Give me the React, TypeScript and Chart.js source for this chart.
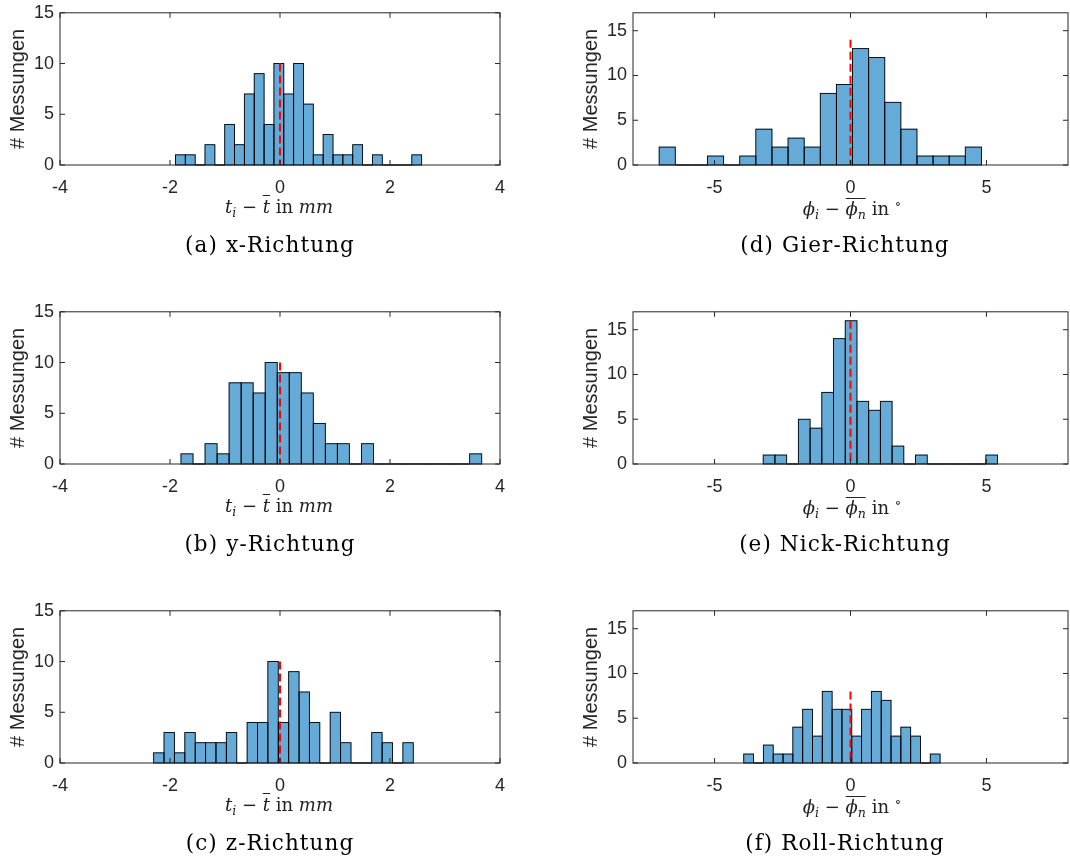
import React, { useEffect, useRef } from 'react';
import { Chart, registerables } from 'chart.js';

Chart.register(...registerables);

// (a) x-Richtung
const xBinCenters = [-1.811, -1.632, -1.453, -1.274, -1.095, -0.916, -0.737, -0.558, -0.379, -0.2, -0.021, 0.158, 0.337, 0.516, 0.695, 0.874, 1.053, 1.232, 1.412, 1.591, 1.77, 1.949, 2.128, 2.307, 2.486];
const xCounts = [1, 1, 0, 2, 0, 4, 2, 7, 9, 4, 10, 7, 10, 6, 1, 3, 1, 1, 2, 0, 1, 0, 0, 0, 1];
const xMeanTop = 10;

// (b) y-Richtung
const yBinCenters = [-1.691, -1.472, -1.253, -1.035, -0.816, -0.597, -0.379, -0.16, 0.059, 0.278, 0.496, 0.715, 0.934, 1.152, 1.371, 1.59, 1.809, 2.027, 2.246, 2.465, 2.683, 2.902, 3.121, 3.339, 3.558];
const yCounts = [1, 0, 2, 1, 8, 8, 7, 10, 9, 9, 7, 4, 2, 2, 0, 2, 0, 0, 0, 0, 0, 0, 0, 0, 1];
const yMeanTop = 10;

// (c) z-Richtung
const zBinCenters = [-2.203, -2.014, -1.825, -1.636, -1.447, -1.259, -1.07, -0.881, -0.692, -0.503, -0.315, -0.126, 0.063, 0.252, 0.441, 0.629, 0.818, 1.007, 1.196, 1.385, 1.573, 1.762, 1.951, 2.14, 2.329];
const zCounts = [1, 3, 1, 3, 2, 2, 2, 3, 0, 4, 4, 10, 4, 9, 7, 4, 0, 5, 2, 0, 0, 3, 2, 0, 2];
const zMeanTop = 10;

// (d) Gier-Richtung
const gierBinCenters = [-6.741, -6.148, -5.556, -4.963, -4.37, -3.778, -3.185, -2.593, -2.0, -1.407, -0.815, -0.222, 0.371, 0.963, 1.556, 2.148, 2.741, 3.334, 3.926, 4.519];
const gierCounts = [2, 0, 0, 1, 0, 1, 4, 2, 3, 2, 8, 9, 13, 12, 7, 4, 1, 1, 1, 2];
const gierMeanTop = 14;

// (e) Nick-Richtung
const nickBinCenters = [-2.995, -2.564, -2.133, -1.702, -1.271, -0.84, -0.409, 0.022, 0.453, 0.884, 1.314, 1.745, 2.176, 2.607, 3.038, 3.469, 3.9, 4.331, 4.762, 5.193];
const nickCounts = [1, 1, 0, 5, 4, 8, 14, 16, 7, 6, 7, 2, 0, 1, 0, 0, 0, 0, 0, 1];
const nickMeanTop = 16;

// (f) Roll-Richtung
const rollBinCenters = [-3.746, -3.384, -3.023, -2.662, -2.301, -1.94, -1.579, -1.218, -0.857, -0.496, -0.135, 0.227, 0.588, 0.949, 1.31, 1.671, 2.032, 2.393, 2.754, 3.115];
const rollCounts = [1, 0, 2, 1, 1, 4, 6, 3, 8, 6, 6, 3, 6, 8, 7, 3, 4, 3, 0, 1];
const rollMeanTop = 8;

const yAxisTitle = '# Messungen';
const translationRange = [-4, 4];
const translationStep = 2;
const rotationRange = [-8, 8];
const rotationStep = 5;
const translationYMax = 15;
const rotationYMax = 17;

const BAR_FILL = 'rgb(102,170,215)';
const AXIS_COLOR = '#262626';
const TICK_FONT = '"Liberation Sans", Arial, sans-serif';

const ROW_TOPS = [10, 309, 608];
const PLOT_H = 155;
const PAD_TOP = 14;
const X_AXIS_H = 40;

const framePlugin = {
  id: 'matlabFrame',
  afterDatasetDraw(chart: any, args: any) {
    if (args.index !== 0) return;
    const ctx = chart.ctx;
    const area = chart.chartArea;
    ctx.save();
    ctx.beginPath();
    ctx.rect(area.left, area.top - 1, area.right - area.left, area.bottom - area.top + 2);
    ctx.clip();
    ctx.strokeStyle = '#000';
    ctx.lineWidth = 0.9;
    args.meta.data.forEach((bar: any) => {
      const p = bar.getProps(['x', 'y', 'base', 'width'], true);
      ctx.strokeRect(p.x - p.width / 2, p.y, p.width, p.base - p.y);
    });
    ctx.restore();
  },
  afterDraw(chart: any) {
    const ctx = chart.ctx;
    const { left, right, top, bottom } = chart.chartArea;
    const xs = chart.scales.x;
    const ys = chart.scales.y;
    const tl = 5;
    ctx.save();
    ctx.strokeStyle = AXIS_COLOR;
    ctx.lineWidth = 1;
    ctx.strokeRect(left, top, right - left, bottom - top);
    ctx.beginPath();
    xs.ticks.forEach((t: any) => {
      const px = xs.getPixelForValue(t.value);
      ctx.moveTo(px, bottom);
      ctx.lineTo(px, bottom - tl);
      ctx.moveTo(px, top);
      ctx.lineTo(px, top + tl);
    });
    ys.ticks.forEach((t: any) => {
      const py = ys.getPixelForValue(t.value);
      ctx.moveTo(left, py);
      ctx.lineTo(left + tl, py);
      ctx.moveTo(right, py);
      ctx.lineTo(right - tl, py);
    });
    ctx.stroke();
    ctx.restore();
  },
};

type PanelProps = {
  centers: number[];
  counts: number[];
  meanTop: number;
  xRange: number[];
  xStep: number;
  yMax: number;
  left: number;
  width: number;
  padLeft: number;
  padRight: number;
  top: number;
};

function Panel(props: PanelProps) {
  const ref = useRef<HTMLCanvasElement | null>(null);
  const height = PAD_TOP + PLOT_H + X_AXIS_H;
  useEffect(() => {
    if (!ref.current) return;
    const chart = new Chart(ref.current, {
      type: 'bar',
      data: {
        datasets: [
          {
            type: 'bar',
            data: props.centers.map((c, i) => ({ x: c, y: props.counts[i] })),
            backgroundColor: BAR_FILL,
            borderWidth: 0,
            barThickness: 'flex',
            categoryPercentage: 1,
            barPercentage: 1,
            order: 1,
          } as any,
          {
            type: 'line',
            data: [
              { x: 0, y: props.meanTop },
              { x: 0, y: 0 },
            ],
            borderColor: 'rgb(255,0,0)',
            borderWidth: 2,
            borderDash: [8, 4],
            pointRadius: 0,
            fill: false,
            order: 0,
          } as any,
        ],
      },
      options: {
        animation: false,
        responsive: false,
        maintainAspectRatio: false,
        layout: { padding: { top: PAD_TOP, left: props.padLeft, right: props.padRight, bottom: 0 } },
        plugins: { legend: { display: false }, tooltip: { enabled: false } },
        scales: {
          x: {
            type: 'linear',
            min: props.xRange[0],
            max: props.xRange[1],
            offset: false,
            grid: { display: false, drawTicks: false },
            border: { display: false },
            ticks: {
              stepSize: props.xStep,
              includeBounds: false,
              padding: 12,
              color: AXIS_COLOR,
              font: { family: TICK_FONT, size: 18 },
              maxRotation: 0,
              autoSkip: false,
            },
            afterFit: (s: any) => {
              s.height = X_AXIS_H;
            },
          },
          y: {
            type: 'linear',
            min: 0,
            max: props.yMax,
            grid: { display: false, drawTicks: false },
            border: { display: false },
            ticks: {
              stepSize: 5,
              includeBounds: false,
              padding: 6,
              color: AXIS_COLOR,
              font: { family: TICK_FONT, size: 18 },
            },
            title: {
              display: true,
              text: yAxisTitle,
              color: AXIS_COLOR,
              font: { family: TICK_FONT, size: 20 },
              padding: { top: 6, bottom: 0 },
            },
            afterFit: (s: any) => {
              s.width = 60;
            },
          },
        },
      } as any,
      plugins: [framePlugin],
    });
    return () => chart.destroy();
  }, []);
  return (
    <canvas
      ref={ref}
      width={props.width}
      height={height}
      style={{ position: 'absolute', left: props.left, top: props.top - PAD_TOP, width: props.width, height }}
    />
  );
}

const serif = '"DejaVu Serif", "Liberation Serif", serif';
const MATH_FS = 18;

const subStyle: React.CSSProperties = { fontSize: '0.7em', position: 'relative', top: '0.3em' };

function mathBox(cx: number, baseline: number): React.CSSProperties {
  return {
    position: 'absolute',
    left: cx,
    top: baseline - MATH_FS * 0.846,
    transform: 'translateX(-50%)',
    fontFamily: serif,
    fontSize: MATH_FS,
    lineHeight: 1,
    whiteSpace: 'nowrap',
    color: '#222',
  };
}

function TransLabel({ cx, baseline }: { cx: number; baseline: number }) {
  return (
    <div style={mathBox(cx, baseline)}>
      <i>t</i>
      <span style={subStyle}>
        <i>i</i>
      </span>
      {' − '}
      <i style={{ textDecoration: 'overline' }}>t</i>
      {' in '}
      <i>mm</i>
    </div>
  );
}

function RotLabel({ cx, baseline }: { cx: number; baseline: number }) {
  return (
    <div style={mathBox(cx, baseline)}>
      <i>ϕ</i>
      <span style={subStyle}>
        <i>i</i>
      </span>
      {' − '}
      <span
        style={{
          display: 'inline-block',
          borderTop: '1px solid #222',
          paddingTop: 1,
          lineHeight: 1,
        }}
      >
        <i>ϕ</i>
        <span style={subStyle}>
          <i>n</i>
        </span>
      </span>
      {' in '}
      <span style={{ fontSize: '0.75em', position: 'relative', top: '-0.5em' }}>∘</span>
    </div>
  );
}

function Caption({ cx, baseline, text }: { cx: number; baseline: number; text: string }) {
  const fs = 21.5;
  return (
    <div
      style={{
        position: 'absolute',
        left: cx,
        top: baseline - fs * 0.846,
        transform: 'translateX(-50%)',
        fontFamily: serif,
        fontSize: fs,
        lineHeight: 1,
        letterSpacing: 1.1,
        whiteSpace: 'nowrap',
        color: '#000',
      }}
    >
      {text}
    </div>
  );
}

const leftPanels = [
  { centers: xBinCenters, counts: xCounts, meanTop: xMeanTop, caption: '(a) x-Richtung' },
  { centers: yBinCenters, counts: yCounts, meanTop: yMeanTop, caption: '(b) y-Richtung' },
  { centers: zBinCenters, counts: zCounts, meanTop: zMeanTop, caption: '(c) z-Richtung' },
];
const rightPanels = [
  { centers: gierBinCenters, counts: gierCounts, meanTop: gierMeanTop, caption: '(d) Gier-Richtung' },
  { centers: nickBinCenters, counts: nickCounts, meanTop: nickMeanTop, caption: '(e) Nick-Richtung' },
  { centers: rollBinCenters, counts: rollCounts, meanTop: rollMeanTop, caption: '(f) Roll-Richtung' },
];

export default function App() {
  return (
    <div
      style={{
        position: 'absolute',
        left: 0,
        top: 0,
        width: 1070,
        height: 861,
        overflow: 'hidden',
        background: '#fff',
      }}
    >
      {leftPanels.map((p, r) => (
        <React.Fragment key={'l' + r}>
          <Panel
            centers={p.centers}
            counts={p.counts}
            meanTop={p.meanTop}
            xRange={translationRange}
            xStep={translationStep}
            yMax={translationYMax}
            left={0}
            width={520}
            padLeft={0}
            padRight={20}
            top={ROW_TOPS[r]}
          />
          <TransLabel cx={279} baseline={ROW_TOPS[r] + PLOT_H + 48} />
          <Caption cx={270} baseline={ROW_TOPS[r] + PLOT_H + 87} text={p.caption} />
        </React.Fragment>
      ))}
      {rightPanels.map((p, r) => (
        <React.Fragment key={'r' + r}>
          <Panel
            centers={p.centers}
            counts={p.counts}
            meanTop={p.meanTop}
            xRange={rotationRange}
            xStep={rotationStep}
            yMax={rotationYMax}
            left={540}
            width={530}
            padLeft={33}
            padRight={2}
            top={ROW_TOPS[r]}
          />
          <RotLabel cx={852} baseline={ROW_TOPS[r] + PLOT_H + 48} />
          <Caption cx={845} baseline={ROW_TOPS[r] + PLOT_H + 87} text={p.caption} />
        </React.Fragment>
      ))}
    </div>
  );
}
